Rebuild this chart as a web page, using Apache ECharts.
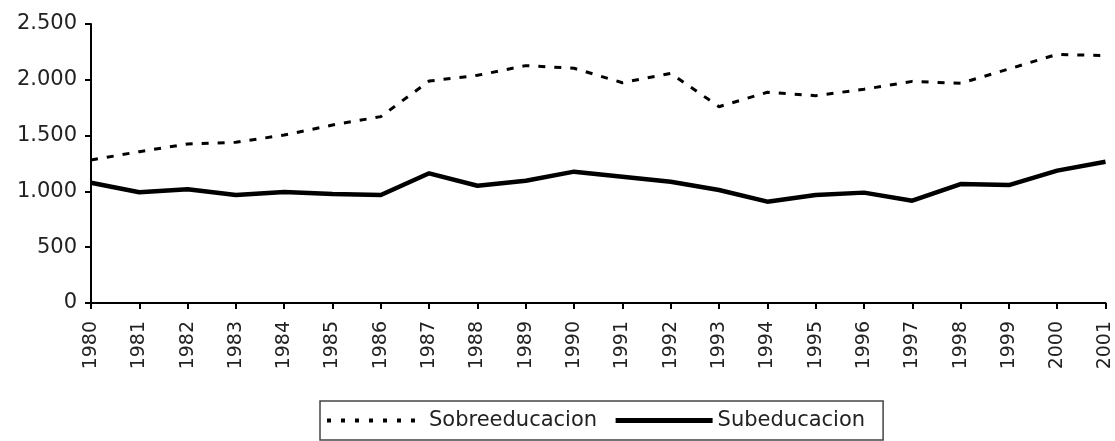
<!DOCTYPE html>
<html>
<head>
<meta charset="utf-8">
<script src="https://cdn.jsdelivr.net/npm/echarts@6/dist/echarts.min.js"></script>
<style>html,body{margin:0;padding:0;background:#fff}#c{width:1115px;height:441px}</style>
</head>
<body>
<div id="c"></div>
<script>
const years = ['1980','1981','1982','1983','1984','1985','1986','1987','1988','1989','1990','1991','1992','1993','1994','1995','1996','1997','1998','1999','2000','2001'];
const sobreeducacion = [1281,1356,1425,1440,1505,1595,1670,1989,2040,2127,2103,1974,2058,1759,1888,1858,1915,1986,1968,2097,2228,2216];
const subeducacion = [1078,992,1019,968,995,977,968,1162,1051,1096,1177,1132,1087,1013,908,968,989,917,1066,1057,1186,1266];
const seriesNames = ['Sobreeducacion','Subeducacion'];
const yTicks = [0,500,1000,1500,2000,2500];

const FONT = 'DejaVu Sans';
const chart = echarts.init(document.getElementById('c'), null, {renderer:'canvas'});
chart.setOption({
  animation:false,
  backgroundColor:'#fff',
  grid:{left:91, right:7, top:24, bottom:138, containLabel:false},
  xAxis:{
    type:'category', data:years, boundaryGap:false,
    axisLine:{lineStyle:{color:'#000', width:2}},
    axisTick:{show:true, length:6, lineStyle:{color:'#000', width:2}, interval:0},
    axisLabel:{rotate:90, interval:0, margin:18, color:'#222', fontFamily:FONT, fontSize:19}
  },
  yAxis:{
    type:'value', min:yTicks[0], max:yTicks[yTicks.length-1], interval:500,
    axisLine:{show:true, lineStyle:{color:'#000', width:2}},
    axisTick:{show:true, length:6, lineStyle:{color:'#000', width:2}},
    splitLine:{show:false},
    axisLabel:{margin:14, color:'#222', fontFamily:FONT, fontSize:21,
      formatter:v => v >= 1000 ? Math.floor(v/1000) + '.' + String(v%1000).padStart(3,'0') : String(v)}
  },
  legend:{
    orient:'horizontal', bottom:1, left:320,
    itemWidth:97, itemHeight:20, itemGap:16,
    padding:[9,18,9,5],
    borderColor:'#444', borderWidth:1.5,
    itemStyle:{opacity:0},
    textStyle:{color:'#222', fontFamily:FONT, fontSize:21},
    data:[
      {name:seriesNames[0], lineStyle:{width:4, type:[4,10]}},
      {name:seriesNames[1], lineStyle:{width:5}}
    ]
  },
  series:[
    {name:seriesNames[0], type:'line', data:sobreeducacion, symbol:'none',
     lineStyle:{color:'#000', width:3, type:[7,9]}, itemStyle:{color:'#000'}},
    {name:seriesNames[1], type:'line', data:subeducacion, symbol:'none',
     lineStyle:{color:'#000', width:4.5}, itemStyle:{color:'#000'}}
  ]
});
</script>
</body>
</html>
